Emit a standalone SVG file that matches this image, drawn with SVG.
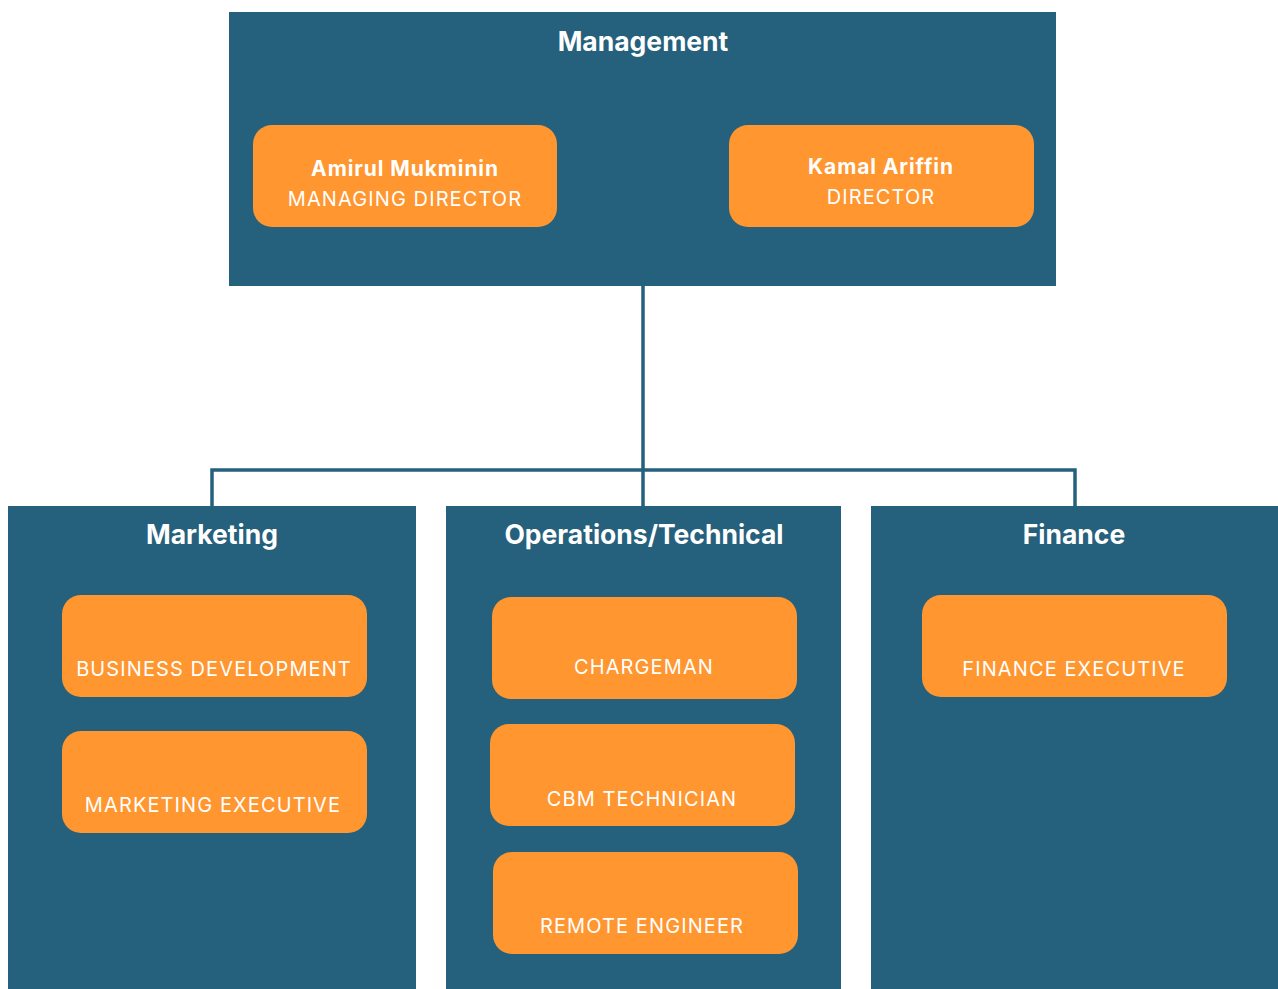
<svg xmlns="http://www.w3.org/2000/svg" width="1278" height="989" viewBox="0 0 1278 989">
<style>
.panel{fill:#25607D}
.card{fill:#FF962F}
.title{font-family:Inter,"Noto Sans",sans-serif;font-weight:700;font-size:26.5px;fill:#fff;text-anchor:middle}
.name{font-family:Inter,"Noto Sans",sans-serif;font-weight:700;font-size:21px;fill:#fff;text-anchor:middle;letter-spacing:0.9px}
.role{font-family:Inter,"Noto Sans",sans-serif;font-weight:400;font-size:20px;fill:#fff;text-anchor:middle;letter-spacing:1.1px}
.conn{fill:none;stroke:#25607D;stroke-width:3.5}
</style>
<rect width="1278" height="989" fill="#fff"/>
<g id="connectors">
<path class="conn" d="M643 286 V506 M212 506 V470 H1075 V506"/>
</g>
<g id="management">
<rect class="panel" x="229" y="12" width="827" height="274"/>
<text class="title" x="643" y="51">Management</text>
</g>
<g id="amirul">
<rect class="card" x="253" y="125" width="304" height="102" rx="19"/>
<text class="name" x="405" y="176">Amirul Mukminin</text>
<text class="role" x="405" y="206">MANAGING DIRECTOR</text>
</g>
<g id="kamal">
<rect class="card" x="729" y="125" width="305" height="102" rx="19"/>
<text class="name" x="881" y="174">Kamal Ariffin</text>
<text class="role" x="881" y="204">DIRECTOR</text>
</g>
<g id="marketing">
<rect class="panel" x="8" y="506" width="408" height="483"/>
<text class="title" x="212" y="544">Marketing</text>
</g>
<g id="business-development">
<rect class="card" x="62" y="595" width="305" height="102" rx="19"/>
<text class="role" x="214" y="676">BUSINESS DEVELOPMENT</text>
</g>
<g id="marketing-executive">
<rect class="card" x="62" y="731" width="305" height="102" rx="19"/>
<text class="role" x="213" y="812">MARKETING EXECUTIVE</text>
</g>
<g id="operations">
<rect class="panel" x="446" y="506" width="395" height="483"/>
<text class="title" x="644" y="544">Operations/Technical</text>
</g>
<g id="chargeman">
<rect class="card" x="492" y="597" width="305" height="102" rx="19"/>
<text class="role" x="644" y="674">CHARGEMAN</text>
</g>
<g id="cbm-technician">
<rect class="card" x="490" y="724" width="305" height="102" rx="19"/>
<text class="role" x="642" y="806">CBM TECHNICIAN</text>
</g>
<g id="remote-engineer">
<rect class="card" x="493" y="852" width="305" height="102" rx="19"/>
<text class="role" x="642" y="933">REMOTE ENGINEER</text>
</g>
<g id="finance">
<rect class="panel" x="871" y="506" width="407" height="483"/>
<text class="title" x="1074" y="544">Finance</text>
</g>
<g id="finance-executive">
<rect class="card" x="922" y="595" width="305" height="102" rx="19"/>
<text class="role" x="1074" y="676">FINANCE EXECUTIVE</text>
</g>
</svg>
